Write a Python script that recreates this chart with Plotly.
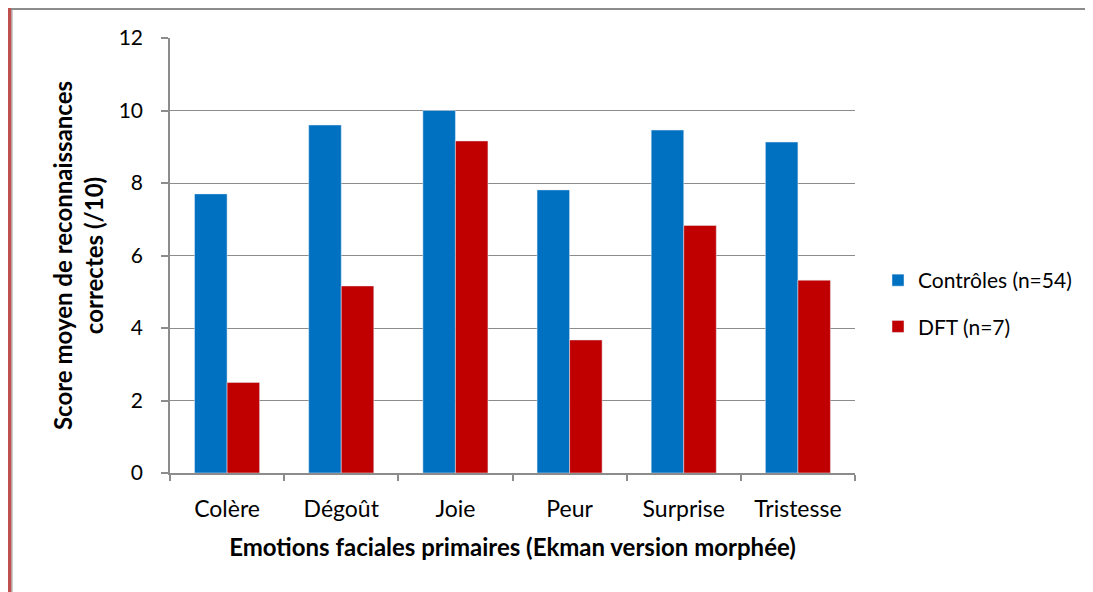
import plotly.graph_objects as go

emotions = ['Colère', 'Dégoût', 'Joie', 'Peur', 'Surprise', 'Tristesse']
controles = [7.70, 9.60, 10.00, 7.81, 9.46, 9.13]
dft = [2.50, 5.16, 9.16, 3.67, 6.83, 5.32]
y_ticks = [0, 2, 4, 6, 8, 10, 12]

FONT = 'Lato'
GREY = '#8c8c8c'

fig = go.Figure()
fig.add_trace(go.Bar(x=emotions, y=controles, name='Contrôles (n=54)',
                     marker_color='#0070C0', legendgroup='a'))
fig.add_trace(go.Bar(x=emotions, y=dft, name='DFT (n=7)',
                     marker_color='#C00000', legendgroup='b'))

# page offset (body margin) and plot area in page pixels
OFF = 8
FW, FH = 1093 - OFF, 592 - OFF
L, R, T, B = 170 - OFF, 855 - OFF, 38 - OFF, 473 - OFF
W, H = R - L, B - T

def px_x(p):
    return (p - OFF - L) / W

def px_y(p):
    return (B - (p - OFF)) / H

fig.update_layout(
    width=FW, height=FH,
    margin=dict(l=L, r=FW - R, t=T, b=FH - B),
    paper_bgcolor='white', plot_bgcolor='white',
    font=dict(family=FONT, size=21, color='black'),
    barmode='group', bargap=0.43, bargroupgap=0,
    legend=dict(x=px_x(878), y=px_y(260), xanchor='left', yanchor='top',
                font=dict(size=21), traceorder='grouped', tracegroupgap=16,
                bgcolor='rgba(0,0,0,0)'),
    xaxis=dict(
        showline=True, linecolor=GREY, linewidth=1.5,
        ticks='outside', ticklen=6, tickcolor=GREY, tickwidth=1.5,
        tickson='boundaries', tickfont=dict(size=23), ticklabelstandoff=15,
        title=dict(text='<b>Emotions faciales primaires (Ekman version morphée)</b>',
                   font=dict(size=24), standoff=18),
    ),
    yaxis=dict(
        range=[0, 12], tickvals=y_ticks, showline=True, linecolor=GREY, linewidth=1.5,
        ticks='outside', ticklen=7, tickcolor=GREY, tickwidth=1.5,
        tickfont=dict(size=21), ticklabelstandoff=14,
        showgrid=True, gridcolor=GREY, gridwidth=1.3, zeroline=False,
        title=dict(text='<b>Score moyen de reconnaissances<br>correctes (/10)</b>',
                   font=dict(size=24), standoff=8),
    ),
    shapes=[
        dict(type='line', xref='paper', yref='paper',
             x0=px_x(9.5), x1=px_x(9.5), y0=px_y(8), y1=px_y(592),
             line=dict(color='#c0504d', width=4)),
        dict(type='line', xref='paper', yref='paper',
             x0=px_x(12), x1=px_x(12), y0=px_y(8), y1=px_y(592),
             line=dict(color='#9a9a9a', width=1)),
        dict(type='line', xref='paper', yref='paper',
             x0=px_x(11), x1=px_x(1092), y0=px_y(9), y1=px_y(9),
             line=dict(color='#8c8c8c', width=2)),
    ],
)

fig.write_html('out.html', config={'displayModeBar': False})
